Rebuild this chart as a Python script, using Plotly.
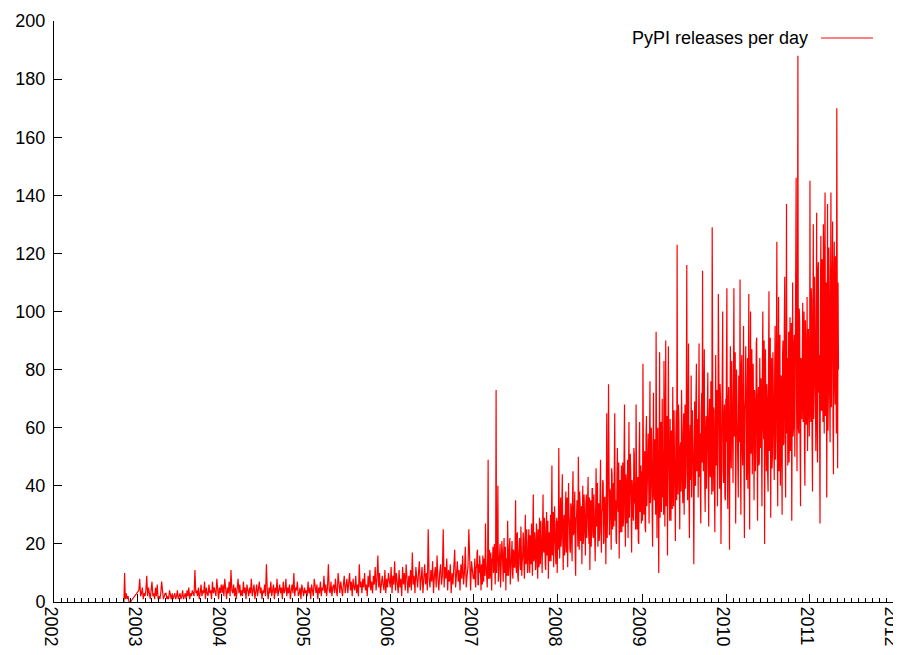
import pandas as pd
import plotly.graph_objects as go

# ---- data: PyPI releases per day ----
# 2002-2006 sampled ~every 4 days, 2007-2011 ~every 2 days
d2002 = ["2002-11-01", "2002-11-04", "2002-11-07", "2002-11-11", "2002-11-15",
         "2002-11-19", "2002-11-23", "2002-11-29"]
v2002 = [0, 10, 1, 3, 1, 2, 0, 0]

v2003 = [4, 8, 2, 3, 5, 1, 3, 2,
         4, 9, 2, 5, 3, 1, 4,
         7, 2, 3, 1, 5, 2, 6, 1,
         2, 1, 3, 7, 2, 1, 2, 3,
         3, 1, 2, 1, 4, 2, 1, 3,
         1, 2, 3, 1, 2, 4, 1, 2,
         3, 1, 2, 4, 1, 2, 3, 1,
         4, 2, 5, 1, 3, 2, 4, 3,
         2, 11, 3, 4, 2, 5, 1, 3,
         6, 2, 4, 3, 7, 1, 5, 3,
         2, 6, 3, 4, 1, 7, 3, 5,
         3, 2, 8, 4, 1, 5, 3, 6]

v2004 = [3, 6, 2, 8, 4, 1, 5, 3,
         7, 2, 11, 4, 3, 6, 2,
         5, 1, 4, 8, 3, 6, 2, 4,
         2, 7, 3, 5, 1, 6, 4, 2,
         5, 3, 8, 2, 4, 6, 1, 3,
         6, 2, 4, 7, 3, 5, 1, 4,
         3, 6, 2, 13, 4, 1, 5, 3,
         7, 2, 4, 6, 1, 5, 3, 8,
         2, 4, 6, 3, 5, 1, 7, 3,
         4, 8, 2, 5, 3, 6, 1, 4,
         6, 3, 10, 2, 5, 4, 7, 2,
         3, 5, 1, 6, 4, 2, 5, 3]

v2005 = [4, 2, 7, 3, 5, 1, 6, 3,
         2, 8, 4, 3, 6, 1, 5,
         3, 7, 2, 5, 4, 9, 3, 6,
         2, 5, 13, 4, 3, 7, 2, 5,
         6, 3, 8, 4, 2, 10, 5, 3,
         7, 4, 2, 6, 9, 3, 5, 8,
         3, 6, 10, 4, 7, 2, 8, 5,
         4, 9, 3, 6, 2, 13, 5, 7,
         3, 8, 5, 10, 4, 6, 2, 9,
         5, 11, 4, 7, 3, 9, 6, 12,
         4, 8, 16, 5, 10, 3, 7, 9,
         6, 4, 11, 3, 8, 5, 10, 6]

v2006 = [5, 12, 3, 9, 6, 14, 4, 10,
         7, 3, 11, 5, 8, 2, 12,
         6, 10, 4, 13, 7, 3, 9, 5,
         11, 4, 17, 6, 9, 3, 12, 7,
         5, 10, 14, 4, 8, 12, 3, 9,
         13, 6, 10, 4, 25, 8, 5, 11,
         7, 14, 3, 9, 12, 5, 16, 8,
         4, 10, 13, 6, 9, 25, 5, 12,
         8, 15, 4, 11, 7, 13, 3, 10,
         6, 12, 18, 5, 9, 14, 7, 11,
         4, 13, 8, 16, 6, 10, 19, 5,
         9, 12, 25, 7, 4, 14, 10, 8]

v2007 = [8, 14, 15, 7, 5, 12, 12, 17, 18, 6, 6, 13, 10, 16, 14, 9,
         4, 13, 11, 6, 16, 12, 7, 15, 13, 9, 27, 14, 9, 11,
         5, 16, 49, 8, 12, 18, 8, 10, 17, 7, 4, 15, 14, 19, 10, 12,
         20, 8, 6, 17, 73, 10, 13, 19, 40, 7, 9, 14, 16, 20, 5, 11,
         12, 21, 18, 8, 7, 16, 22, 10, 11, 19, 4, 14, 15, 9, 28, 17,
         9, 13, 19, 22, 6, 11, 14, 20, 21, 10, 8, 18, 17, 12, 12, 21,
         35, 12, 10, 23, 24, 9, 7, 16, 18, 22, 13, 11, 26, 19, 9, 14,
         16, 24, 22, 12, 8, 19, 30, 13, 14, 25, 20, 10, 11, 21, 25, 15,
         10, 23, 18, 13, 27, 20, 9, 26, 37, 14, 15, 24, 21, 11, 12, 27,
         24, 14, 8, 25, 19, 12, 29, 22, 13, 28, 22, 15, 10, 26, 37, 18,
         17, 29, 26, 13, 11, 24, 31, 16, 19, 28, 8, 21, 24, 14, 20, 30,
         14, 27, 47, 16, 22, 31, 12, 19, 33, 24, 18, 13, 27, 29, 10, 22]

v2008 = [28, 18, 53, 32, 15, 24, 36, 19, 22, 35, 44, 21, 11, 27, 30, 16,
         19, 33, 38, 17, 25, 36, 12, 22, 41, 30, 27, 18, 17, 34,
         33, 20, 14, 37, 45, 23, 24, 31, 38, 16, 9, 29, 29, 35, 21, 19,
         50, 26, 18, 38, 34, 21, 26, 33, 13, 30, 40, 20, 23, 37, 31, 24,
         16, 34, 37, 22, 28, 40, 43, 25, 20, 36, 11, 27, 35, 19, 25, 39,
         39, 23, 22, 37, 30, 18, 14, 32, 46, 26, 27, 41, 19, 29, 34, 21,
         24, 38, 49, 25, 17, 31, 32, 42, 41, 20, 21, 36, 36, 28, 13, 33,
         65, 22, 28, 44, 75, 27, 23, 39, 38, 30, 18, 46, 44, 25, 30, 41,
         26, 45, 65, 28, 35, 21, 20, 43, 53, 33, 31, 48, 15, 36, 42, 24,
         37, 47, 24, 31, 48, 26, 29, 50, 68, 32, 19, 44, 40, 27, 33, 49,
         22, 38, 62, 29, 36, 51, 45, 24, 17, 42, 39, 30, 28, 53, 51, 34,
         34, 25, 68, 46, 25, 37, 43, 21, 20, 52, 62, 31, 38, 47, 27, 40]

v2009 = [45, 28, 82, 51, 30, 39, 52, 26, 24, 57, 64, 33, 38, 49, 58, 29,
         27, 55, 76, 34, 41, 60, 55, 31, 19, 47, 72, 38, 35, 56, 48, 30,
         93, 42, 22, 58, 60, 35, 10, 46, 86, 29, 44, 62, 31, 40, 70, 36,
         52, 30, 83, 61, 26, 45, 90, 33, 47, 64, 16, 39, 88, 55, 39, 28,
         63, 37, 28, 59, 57, 32, 74, 48, 33, 66, 49, 41, 21, 57, 66, 35,
         123, 46, 37, 68, 62, 40, 25, 53, 55, 38, 73, 60, 41, 34, 58, 65,
         30, 52, 68, 39, 47, 70, 116, 44, 35, 62, 89, 37, 22, 57, 61, 42,
         78, 36, 44, 66, 56, 47, 13, 59, 69, 41, 40, 71, 82, 45, 50, 63,
         36, 70, 89, 43, 58, 38, 27, 65, 72, 48, 114, 55, 45, 74, 87, 40,
         31, 58, 64, 39, 52, 72, 79, 46, 26, 61, 70, 44, 43, 76, 60, 37,
         129, 50, 38, 67, 66, 42, 24, 58, 85, 47, 55, 73, 33, 49, 106, 62,
         48, 39, 75, 69, 20, 54, 62, 78, 100, 45, 41, 64, 68, 36, 35, 70]

v2010 = [55, 80, 108, 44, 32, 69, 74, 48, 18, 62, 88, 52, 46, 83, 67, 41,
         41, 75, 108, 57, 58, 86, 27, 49, 80, 64, 50, 43, 36, 78, 72, 55,
         111, 47, 30, 81, 85, 53, 47, 72, 95, 44, 22, 66, 70, 88, 54, 42,
         63, 84, 39, 58, 106, 46, 25, 76, 100, 51, 60, 87, 44, 65, 82, 49,
         35, 73, 68, 45, 52, 89, 91, 56, 28, 70, 74, 47, 48, 84, 60, 53,
         77, 42, 33, 79, 100, 61, 56, 90, 20, 58, 87, 48, 45, 75, 70, 44,
         38, 82, 107, 52, 62, 91, 29, 67, 84, 46, 51, 86, 73, 55, 42, 78,
         95, 49, 58, 88, 124, 57, 33, 80, 105, 45, 66, 92, 40, 71, 78, 50,
         30, 85, 90, 54, 55, 95, 112, 62, 36, 79, 137, 58, 84, 47, 64, 93,
         48, 70, 98, 52, 70, 96, 28, 65, 110, 57, 60, 89, 92, 50, 75, 99,
         146, 68, 45, 94, 188, 60, 58, 101, 97, 55, 33, 84, 80, 63, 86, 103,
         62, 90, 100, 54, 40, 97, 88, 61, 71, 105, 52, 66, 94, 58, 57, 88]

v2011 = [145, 68, 62, 108, 104, 57, 38, 96, 130, 63, 75, 112, 92, 55, 52, 101,
         134, 60, 48, 115, 117, 72, 85, 58, 27, 105, 126, 66, 66, 118, 98, 62,
         130, 78, 58, 120, 141, 64, 90, 110, 36, 74, 137, 59, 72, 122, 110, 70,
         55, 104, 141, 67, 84, 125, 131, 61, 44, 113, 124, 76, 68, 119, 100, 58,
         170, 95, 46, 110, 80]

year_spans = [
    ("2003-01-05", "2003-12-29", v2003),
    ("2004-01-02", "2004-12-29", v2004),
    ("2005-01-02", "2005-12-29", v2005),
    ("2006-01-02", "2006-12-29", v2006),
    ("2007-01-01", "2007-12-31", v2007),
    ("2008-01-01", "2008-12-31", v2008),
    ("2009-01-01", "2009-12-31", v2009),
    ("2010-01-01", "2010-12-31", v2010),
    ("2011-01-01", "2011-05-05", v2011),
]

dates = list(pd.to_datetime(d2002))
values = list(v2002)
for start, end, vals in year_spans:
    dates += list(pd.date_range(start, end, periods=len(vals)))
    values += vals

series_name = "PyPI releases per day"
y_ticks = list(range(0, 201, 20))

FONT = "Liberation Sans, Arial, Helvetica, sans-serif"

# page body has an 8px margin: size the figure so the plot area lands at
# x 54..894, y 21..602 in the window
fig = go.Figure()
fig.add_trace(go.Scatter(x=dates, y=values, mode="lines",
                         line=dict(color="#ff0000", width=1.2),
                         name=series_name, showlegend=False,
                         hoverinfo="skip"))

fig.update_layout(
    width=893, height=647, autosize=False,
    margin=dict(l=46, r=7, t=13, b=53, autoexpand=False),
    paper_bgcolor="white", plot_bgcolor="white",
    font=dict(family=FONT, size=18, color="black"),
    showlegend=False,
)
fig.update_xaxes(
    type="date", range=["2002-01-01", "2012-01-01 10:00"],
    tick0="2002-01-01", dtick="M12", tickformat="%Y", tickangle=90,
    ticks="inside", ticklen=8, tickcolor="black", tickwidth=1,
    minor=dict(dtick="M1", ticks="inside", ticklen=4, tickcolor="black", showgrid=False),
    showline=True, linecolor="black", linewidth=1,
    showgrid=False, zeroline=False, automargin=False,
    ticklabeloverflow="allow", ticklabelshift=-3,
    tickfont=dict(family=FONT, size=18, color="black"),
)
fig.update_yaxes(
    range=[0, 200], tickvals=y_ticks,
    ticks="inside", ticklen=8, tickcolor="black", tickwidth=1,
    showline=True, linecolor="black", linewidth=1,
    showgrid=False, zeroline=False, automargin=False,
    tickfont=dict(family=FONT, size=18, color="black"),
    ticklabelstandoff=4,
)

# gnuplot-style key: text on the left, sample line on the right
key_y = (602 - 38) / 581
fig.add_annotation(xref="paper", yref="paper", x=(810 - 54) / 840, y=key_y,
                   text=series_name, showarrow=False, xanchor="right", yanchor="middle",
                   font=dict(family=FONT, size=18, color="black"))
fig.add_shape(type="line", xref="paper", yref="paper",
              x0=(821 - 54) / 840, x1=(873 - 54) / 840,
              y0=key_y, y1=key_y,
              line=dict(color="#ff0000", width=1))

fig.write_html("out.html")
